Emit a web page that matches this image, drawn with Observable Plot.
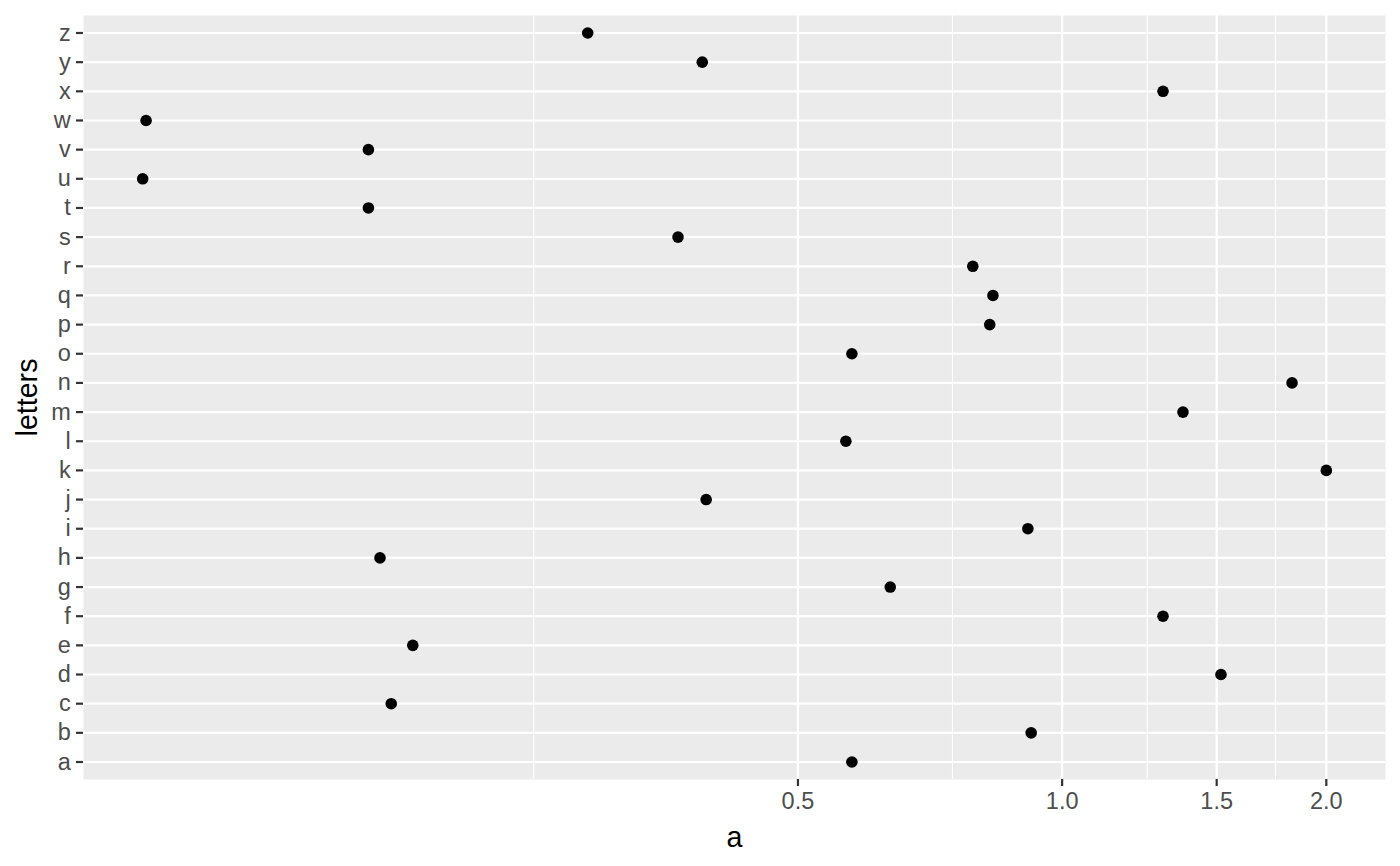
<!DOCTYPE html>
<html>
<head>
<meta charset="utf-8">
<script src="https://cdn.jsdelivr.net/npm/d3@7"></script>
<script src="https://cdn.jsdelivr.net/npm/@observablehq/plot@0.6"></script>
<style>
  html, body { margin: 0; padding: 0; background: #ffffff; }
  #chart { width: 1400px; height: 866px; }
</style>
</head>
<body>
<div id="chart"></div>
<script>
const letters = ["a","b","c","d","e","f","g","h","i","j","k","l","m","n","o","p","q","r","s","t","u","v","w","x","y","z"];
const values = [0.576, 0.922, 0.172, 1.517, 0.182, 1.303, 0.637, 0.167, 0.914, 0.393, 2.0, 0.567, 1.373, 1.828, 0.576, 0.827, 0.834, 0.791, 0.365, 0.162, 0.0896, 0.162, 0.0904, 1.303, 0.389, 0.288];
const majorTicks = [0.5, 1.0, 1.5, 2.0];
const minorBreaks = [0.25, 0.75, 1.25, 1.75];
const xTitle = "a";
const yTitle = "letters";

const data = letters.map((l, i) => ({letter: l, a: values[i]}));

// ggplot-style 5% expansion in log space
const lo = Math.log10(d3.min(values)), hi = Math.log10(d3.max(values));
const pad = (hi - lo) * 0.05;
const xDomain = [Math.pow(10, lo - pad), Math.pow(10, hi + pad)];

const chart = Plot.plot({
  width: 1400,
  height: 866,
  marginLeft: 83,
  marginRight: 15,
  marginTop: 15,
  marginBottom: 87,
  style: {fontFamily: "'Liberation Sans', Arial, sans-serif", background: "#ffffff"},
  x: {type: "log", domain: xDomain},
  y: {type: "point", domain: letters.slice().reverse(), padding: 0.6, round: false},
  marks: [
    Plot.frame({fill: "#EBEBEB", stroke: null}),
    Plot.ruleX(minorBreaks, {stroke: "#ffffff", strokeWidth: 1.1}),
    Plot.ruleX(majorTicks, {stroke: "#ffffff", strokeWidth: 2.2}),
    Plot.ruleY(letters, {stroke: "#ffffff", strokeWidth: 2.2}),
    Plot.axisX({ticks: majorTicks, tickFormat: d3.format(".1f"), tickSize: 7, tickPadding: 5.7, stroke: "#333333", strokeWidth: 2.2, fill: "#4D4D4D", fontSize: 23.5, label: null}),
    Plot.axisY({tickSize: 7, tickPadding: 5.7, stroke: "#333333", strokeWidth: 2.2, fill: "#4D4D4D", fontSize: 23.5, label: null}),
    Plot.dot(data, {x: "a", y: "letter", r: 5.8, fill: "#000000", stroke: null}),
    Plot.text([xTitle], {frameAnchor: "bottom", dy: 58.5, lineAnchor: "middle", textAnchor: "middle", text: d => d, fontSize: 28.6, fill: "#000000"}),
    Plot.text([yTitle], {frameAnchor: "left", dx: -55.5, rotate: -90, lineAnchor: "middle", textAnchor: "middle", text: d => d, fontSize: 28.6, fill: "#000000"})
  ]
});
document.getElementById("chart").appendChild(chart);
</script>
</body>
</html>
